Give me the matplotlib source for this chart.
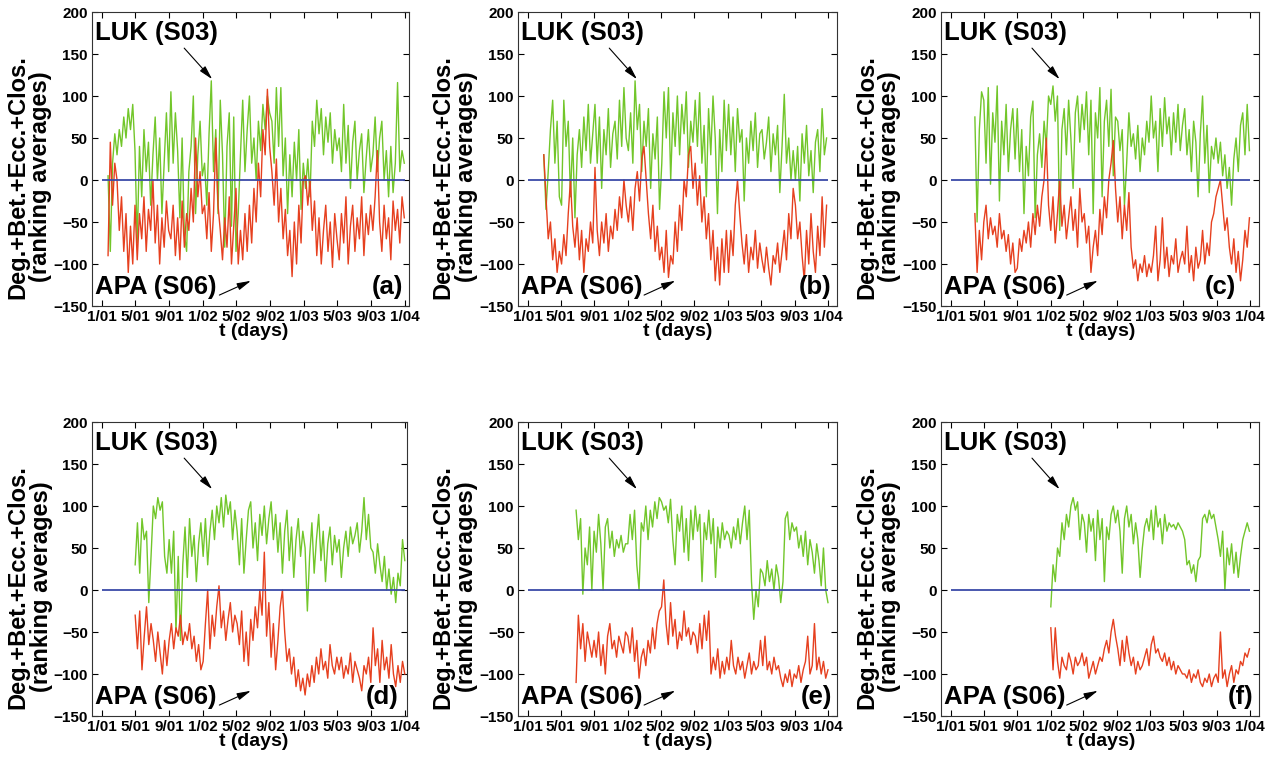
import numpy as np
import matplotlib
matplotlib.use("Agg")
import matplotlib.pyplot as plt

# 横軸（日数）の目盛とラベル
month_days = [0, 120, 243, 365, 485, 608, 730, 850, 973, 1095]
month_labels = ["1/01", "5/01", "9/01", "1/02", "5/02", "9/02", "1/03", "5/03", "9/03", "1/04"]
y_ticks = [-150, -100, -50, 0, 50, 100, 150, 200]

panel_names = ["(a)", "(b)", "(c)", "(d)", "(e)", "(f)"]
first_day = [22, 58, 88, 120, 176, 366]
last_day = [1092, 1090, 1093, 1094, 1095, 1093]

# LUK (S03) / APA (S06) のランキング平均
luk_a = [5, -85, 20, 55, 30, 60, 40, 75, 50, 85, 60, 90, 35,
         -75, 40, -20, 60, 10, 45, -30, 30, 75, 0, 50, -40, 20, 80, 10,
         105, 20, 80, 35, -45, 50, -65, -85, 10, 40, 100, -40, 30, 70, 5,
         20, -30, 55, 118, 10, 60, -40, 95, 30, -80, 40, 80, -55, 75, -85,
         -40, 30, 95, 10, 60, 100, 20, 50, 0, 70, 35, 90, 60, 100, 80,
         70, 20, 110, 40, 110, 5, 50, -40, 30, -20, 45, 0, 60, -35, 20,
         -10, 25, -20, 70, 40, 95, 55, 85, 30, 75, 45, 80, 20, 60, 35,
         50, 10, 90, 20, 65, -10, 45, 70, 0, 35, 55, -15, 25, 60, 10,
         30, 75, 10, 50, 70, 0, 35, -20, 40, -15, 20, 116, 10, 35, 20]
apa_a = [-90, 45, -30, 20, 0, -60, -20, -85, -40, -110, -55, -100, -30,
         -95, -40, -70, -20, -85, -35, -60, 0, -75, -30, -100, -45, -80, -25, -60,
         -70, -30, -90, -45, -95, -25, -80, -40, -60, -10, -50, 50, -20, 10, -40,
         -30, -70, -15, -85, -40, 50, -30, -60, -95, -45, -80, -20, -100, -55, -10,
         -100, -60, -95, -40, -85, -30, -75, -10, -50, 20, -20, 60, 30, 108, 40,
         10, -30, 25, -50, -10, -70, -35, -90, -60, -115, -50, -100, -30, -75, 0,
         5, -30, 0, -60, -25, -90, -45, -100, -60, -30, -85, -50, -104, -40, -70,
         -95, -40, -75, -20, -100, -55, -30, -85, -45, -70, -20, -90, -40, -65, -30,
         -60, -20, 35, -50, -85, -30, -70, -45, -95, -25, -60, -35, -75, -20, -45]

luk_b = [30, -35, 10, 60, 95, 20, 70, -20,
         -30, 95, 40, 70, -20, 50, -45, 30, 60, 15, 75, 35, 90, 20, 55,
         90, 20, 75, -10, 60, 30, 85, 15, 55, 70, 25, 95, 40, 110, 50,
         35, 80, 20, 118, 60, 90, 10, 70, 40, 85, -10, 55, 25, 75, -35,
         20, 105, 50, 110, 0, 80, 40, 100, 30, 90, 55, 105, 15, 70, 45,
         95, 40, 104, 20, 65, -20, 85, 30, 100, 50, -40, 60, 10, 95, 35,
         90, 30, 75, 10, 85, 45, 60, -25, 50, 20, 70, 35, 80, 15, 55,
         60, 25, 45, 75, 10, 55, 30, 65, -15, 40, 102, 20, 50, 0, 35,
         0, 40, -25, 55, 20, 65, 5, 35, -15, 45, 60, 10, 85, 30, 50]
apa_b = [30, -20, -70, -50, -95, -70, -110, -85,
         -100, -65, -90, -40, 0, -55, -80, -45, -95, -60, -110, -70, -85, -50, -75,
         15, -60, -90, -50, -75, -40, -85, -55, -70, -35, -60, -20, -45, 0, -30,
         -50, -20, -60, -10, 10, -25, 25, 40, 0, -40, -70, -30, -85, -55, -95,
         -80, -110, -60, -116, -90, -100, -50, -85, -30, -60, 0, -20, 30, 40, -10,
         20, -30, 5, -50, -20, -70, -40, -95, -60, -120, -80, -125, -70, -110, -60,
         -110, -60, -90, -30, 0, -40, -75, -100, -65, -110, -80, -95, -60, -105, -75,
         -95, -110, -80, -105, -125, -90, -100, -75, -110, -85, -60, -95, -40, -70, -10,
         -30, -70, -50, -90, -120, -60, -100, -40, -85, -110, -55, -90, -20, -80, -30]

luk_c = [75, -50, 60, 105,
         95, 20, 110, -5, 80, 45, 112, -25, 70, 30, 90, 10, 60, 85, 25,
         85, 10, 60, -40, 40, 5, 75, 94, -45, 30, 55, 15, 70, 40, 100,
         90, 112, 70, 100, -60, 60, 85, 30, 95, 50, -10, 80, 100, 45, 90,
         60, 105, 30, 95, -40, 80, 50, 110, -20, 70, 95, 40, 108, 5, 75,
         70, 35, 60, -30, 20, 80, 40, 55, 25, 65, 10, 50, 30, 70, 45,
         100, 50, 70, 10, 85, 40, 98, 55, 75, 30, 80, 45, 90, 35, 65,
         85, 30, 60, 10, 70, 45, -20, 55, 100, 20, 65, -15, 40, 25, 50,
         20, 45, 5, 30, -10, 15, -30, 25, 50, 10, 65, 80, 30, 90, 35]
apa_c = [-40, -110, -60, -95,
         -50, -30, -70, -45, -65, -55, -80, -40, -70, -60, -85, -65, -100, -75, -110,
         -105, -70, -85, -60, -75, -50, -80, -40, -65, -30, -55, -20, 0, 50, -30,
         -60, -20, -75, -40, 0, -55, -30, -70, -45, -20, -60, -35, -80, -10, -50,
         -40, -75, -55, -110, -80, -60, -90, -35, -65, -20, -45, 0, 20, 47, -10,
         -50, -20, -70, -30, -60, -15, -80, -105, -95, -120, -100, -110, -90, -115, -100,
         -110, -90, -55, -120, -95, -45, -105, -80, -115, -90, -100, -70, -110, -95, -85,
         -100, -55, -110, -90, -120, -80, -105, -95, -60, -100, -75, -90, -50, -40, -20,
         -10, 0, -30, -60, -45, -80, -100, -70, -110, -85, -120, -95, -60, -80, -45]

luk_d = [30, 80, 20, 85, 60, 70, -15, 40, 100, 85, 110, 95, 105, 40, 20,
         60, 20, 70, -50, 40, -60, 30, 75, 15, 85, 40, 65, 10, 55, 80,
         40, 85, 30, 70, 95, 60, 100, 80, 110, 75, 113, 90, 105, 60, 95,
         70, 30, 85, 20, 60, 95, 105, 50, 80, 35, 90, 65, 100, 55, 85,
         105, 60, 90, 45, 80, 20, 70, 95, 35, 75, 15, 60, 85, 40, 70,
         50, -25, 40, 80, 20, 60, 90, 35, 70, 10, 55, 75, 30, 65, 45,
         60, 15, 50, 70, 40, 75, 55, 65, 80, 45, 70, 110, 60, 90, 50,
         45, 20, 55, 30, 10, 40, 0, 25, -5, 15, -15, 20, 5, 60, 35]
apa_d = [-30, -70, -25, -95, -55, -20, -65, -40, -60, -85, -50, -75, -100, -60, -90,
         -60, -40, -70, -45, -55, -30, -65, -50, -60, -40, -70, -55, -85, -65, -95,
         -85, -40, 0, -70, -30, -55, -20, 5, -45, -25, -60, -35, -15, -50, -30,
         -40, -65, -25, -85, -50, -90, -35, -60, -20, -45, 0, -30, 45, -55, -15,
         -80, -40, -95, -60, -20, 0, -50, -85, -70, -100, -80, -115, -95, -120, -105,
         -125, -100, -115, -90, -110, -80, -100, -70, -95, -85, -105, -65, -90, -100, -80,
         -95, -80, -105, -90, -100, -75, -110, -85, -95, -105, -120, -90, -100, -80, -110,
         -45, -90, -70, -110, -60, -95, -80, -105, -65, -100, -115, -90, -110, -85, -100]

luk_e = [95, 60, 85, -5, 50, 30, 75, 0,
         70, 45, 90, 55, 0, 75, 85, 50, 70, 40, 60, 50, 65, 45, 55,
         55, 90, 60, 95, 30, 0, 80, 70, 100, 60, 95, 75, 105, 85, 110,
         105, 95, 100, 80, 108, 60, 30, 90, 70, 100, 45, 85, 35, 95, 60,
         100, 70, 90, 10, 80, 60, 95, 55, 85, 15, 75, 50, 80, 60, 70,
         65, 50, 75, 60, 85, 55, 80, 100, 60, 95, 10, -35, 0, -20, 25,
         20, 5, 35, 10, 25, 0, 30, 15, -15, 10, 85, 93, 60, 80, 70,
         75, 50, 65, 40, 70, 30, 60, 45, 20, 55, 35, 5, 50, 0, -15]
apa_e = [-110, -30, -70, -40, -85, -50, -65, -80,
         -60, -80, -50, -90, -65, -100, -55, -40, -70, -60, -80, -55, -65, -75, -50,
         -55, -75, -45, -85, -60, -105, -80, -70, -90, -60, -75, -45, -70, -40, -25,
         -20, 12, -40, -65, -15, -55, -35, -70, -50, -60, -25, -55, -45, -65, -50,
         -55, -75, -40, -70, -30, -60, -25, -100, -80, -95, -70, -105, -85, -100, -80,
         -95, -60, -90, -100, -80, -95, -85, -105, -90, -75, -100, -85, -95, -90, -60,
         -90, -55, -95, -85, -100, -80, -95, -90, -105, -115, -100, -110, -95, -115, -100,
         -105, -90, -110, -95, -85, -55, -100, -90, -40, -95, -80, -100, -85, -105, -95]

luk_f = [-20, 30, 10, 50, 40, 80, 60, 90, 75, 100, 110, 95, 105, 60, 90,
         80, 45, 90, 70, 85, 35, 95, 60, 85, 10, 75, 60, 90, 100, 80,
         95, 70, 20, 85, 100, 75, 90, 55, 80, 60, 15, 50, 75, 85, 70,
         95, 60, 100, 75, 85, 55, 90, 70, 80, 75, 78, 72, 80, 75, 70,
         60, 30, 35, 20, 30, 10, 35, 40, 85, 90, 80, 95, 85, 90, 75,
         60, 40, 70, 0, 50, 30, 55, 20, 45, 15, 40, 60, 70, 80, 70]
apa_f = [-45, -95, -45, -85, -105, -80, -90, -95, -75, -85, -100, -80, -90, -85, -75,
         -90, -80, -105, -95, -85, -100, -90, -80, -85, -70, -60, -75, -50, -35, -55,
         -70, -90, -60, -85, -55, -75, -90, -80, -100, -85, -95, -90, -80, -70, -90,
         -65, -55, -75, -70, -80, -85, -75, -90, -80, -95, -85, -100, -90, -95, -100,
         -100, -105, -95, -110, -100, -105, -95, -110, -115, -105, -110, -100, -115, -105, -100,
         -110, -50, -105, -95, -115, -100, -90, -110, -95, -100, -85, -90, -75, -80, -70]

luk_series = [luk_a, luk_b, luk_c, luk_d, luk_e, luk_f]
apa_series = [apa_a, apa_b, apa_c, apa_d, apa_e, apa_f]

GREEN = "#72c62a"
RED = "#e6401f"
BLUE = "#3a4aa8"

plt.rcParams["font.family"] = ["Liberation Sans", "DejaVu Sans"]
plt.rcParams["font.weight"] = "bold"
plt.rcParams["axes.labelweight"] = "bold"

# 各パネルの枠（ピクセル: 左, 右, 上, 下）と横軸の範囲
W, H = 1282, 762
boxes = [(92, 409, 12, 306), (518, 837, 12, 306), (941, 1259, 12, 306),
         (92, 407, 422, 716), (518, 837, 422, 716), (941, 1259, 422, 716)]
xlims = [(-36, 1109), (-36, 1128), (-36, 1128), (-36, 1102), (-36, 1128), (-36, 1128)]
tag_x = [1088, 1108, 1045, 1072, 1112, 1108]

ARROW = dict(arrowstyle="-|>,head_length=0.7,head_width=0.18", lw=0.8, color="k",
             mutation_scale=12, shrinkA=0, shrinkB=0)


def draw_panel(ax, i):
    x_luk = np.linspace(first_day[i], last_day[i], len(luk_series[i]))
    x_apa = np.linspace(first_day[i], last_day[i], len(apa_series[i]))
    ax.plot(x_luk, luk_series[i], color=GREEN, lw=1.0)
    ax.plot(x_apa, apa_series[i], color=RED, lw=1.0)
    ax.hlines(0, month_days[0], month_days[-1], color=BLUE, lw=1.3, zorder=5)

    ax.set_xlim(*xlims[i])
    ax.set_ylim(-150, 200)
    ax.set_xticks(month_days)
    ax.set_xticklabels(month_labels)
    ax.set_yticks(y_ticks)
    ax.tick_params(direction="in", top=True, right=True, length=4, width=0.8,
                   labelsize=11, pad=3)
    for s in ax.spines.values():
        s.set_linewidth(0.8)
        s.set_color("#333333")

    ax.set_xlabel("t (days)", fontsize=14, va="center")
    ax.xaxis.set_label_coords((547.5 - xlims[i][0]) / (xlims[i][1] - xlims[i][0]), -0.088)
    ax.set_ylabel("Deg.+Bet.+Ecc.+Clos.\n(ranking averages)", fontsize=17,
                  va="center", linespacing=1.0)
    ax.yaxis.set_label_coords(-0.198, 0.44)

    # 注記
    ax.text(-25, 175, "LUK (S03)", fontsize=18.5, ha="left", va="center")
    ax.text(-25, -127, "APA (S06)", fontsize=18.5, ha="left", va="center")
    ax.text(tag_x[i], -127, panel_names[i], fontsize=18.5, ha="right", va="center")
    ax.annotate("", xy=(398, 120), xytext=(297, 157), arrowprops=ARROW)
    ax.annotate("", xy=(538, -120), xytext=(424, -137), arrowprops=ARROW)


fig = plt.figure(figsize=(W / 100, H / 100), dpi=100)
for i, (l, r, t, b) in enumerate(boxes):
    ax = fig.add_axes([l / W, (H - b) / H, (r - l) / W, (b - t) / H])
    draw_panel(ax, i)

fig.savefig("out.png", dpi=100)
